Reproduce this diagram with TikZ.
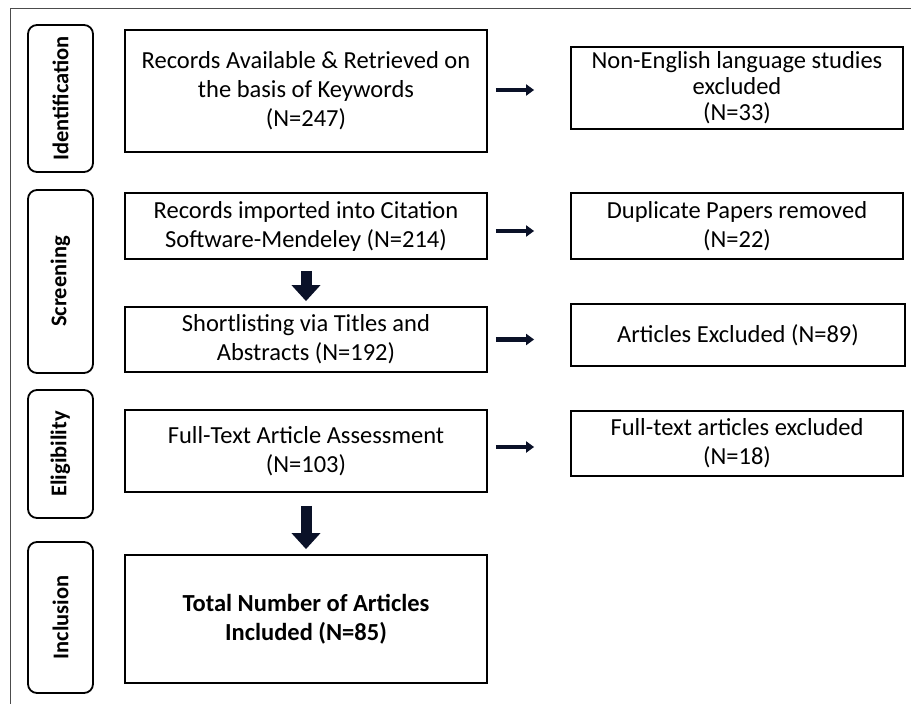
\documentclass[tikz,border=0pt]{standalone}
\usepackage{fontspec}
\setmainfont{Carlito}
\usetikzlibrary{arrows.meta,calc}
\definecolor{arrowc}{HTML}{0A1128}
\tikzset{
  mainbox/.style={draw=black,line width=1.8pt,align=center,inner sep=0pt,
    font=\fontsize{24.5}{29}\selectfont},
  sidebox/.style={draw=black,line width=1.8pt,rounded corners=9pt,inner sep=0pt,
    minimum width=65pt},
  sidelabel/.style={rotate=90,font=\fontsize{22.5}{26}\selectfont\bfseries},
  rarrow/.style={draw=arrowc,line width=4.5pt,-{Triangle[length=8pt,width=11pt]}},
  darrow/.style={draw=arrowc,line width=11pt,-{Triangle[length=16pt,width=28pt]}},
}
\begin{document}
\begin{tikzpicture}[x=1pt,y=-1pt]
\useasboundingbox (0,0) rectangle (911,704);
% outer frame
\draw[draw=black!70,line width=1pt] (10,720) -- (10,8) -- (930,8);
% side boxes
\node[sidebox,minimum height=147pt] (s1) at (60.5,98.5) {};
\node[sidelabel] (t1) at (s1.center) {Identification};
\node[sidebox,minimum height=183pt] (s2) at (60.5,281.5) {};
\node[sidelabel] (t2) at (s2.center) {Screening};
\node[sidebox,minimum height=128pt] (s3) at (60.5,454) {};
\node[sidelabel] (t3) at (s3.center) {Eligibility};
\node[sidebox,minimum height=151pt] (s4) at (60.5,617.5) {};
\node[sidelabel] (t4) at (s4.center) {Inclusion};
% left column
\node[mainbox,minimum width=362pt,minimum height=122pt] (b1) at (306,91)
  {Records Available \& Retrieved on\\the basis of Keywords\\(N=247)};
\node[mainbox,minimum width=362pt,minimum height=66pt] (b2) at (306,226)
  {Records imported into Citation\\Software-Mendeley (N=214)};
\node[mainbox,minimum width=362pt,minimum height=65pt] (b3) at (306,339.5)
  {Shortlisting via Titles and\\Abstracts (N=192)};
\node[mainbox,minimum width=362pt,minimum height=82pt] (b4) at (306,451)
  {Full-Text Article Assessment\\(N=103)};
\node[mainbox,minimum width=362pt,minimum height=128pt,font=\fontsize{24.5}{29}\selectfont\bfseries] (b5) at (306,619)
  {Total Number of Articles\\Included (N=85)};
% right column
\node[mainbox,minimum width=332pt,minimum height=82pt,font=\fontsize{24.5}{26}\selectfont] (r1) at (737,88)
  {Non-English language studies\\excluded\\(N=33)};
\node[mainbox,minimum width=332pt,minimum height=66pt] (r2) at (737,226)
  {Duplicate Papers removed\\(N=22)};
\node[mainbox,minimum width=334pt,minimum height=62pt] (r3) at (738,335)
  {Articles Excluded (N=89)};
\node[mainbox,minimum width=332pt,minimum height=65pt] (r4) at (737,443.5)
  {Full-text articles excluded\\(N=18)};
% horizontal arrows
\draw[rarrow,shorten <=8pt,shorten >=36pt] ([yshift=1pt]b1.east) -- ([yshift=1pt]b1.east -| r1.west);
\draw[rarrow,shorten <=8pt,shorten >=36pt] ([yshift=-5pt]b2.east) -- ([yshift=-5pt]b2.east -| r2.west);
\draw[rarrow,shorten <=8pt,shorten >=36pt] (b3.east) -- (b3.east -| r3.west);
\draw[rarrow,shorten <=8pt,shorten >=36pt] ([yshift=4pt]b4.east) -- ([yshift=4pt]b4.east -| r4.west);
% vertical arrows
\draw[darrow,shorten <=11pt,shorten >=5pt] (b2.south) -- (b3.north);
\draw[darrow,shorten <=13pt,shorten >=5pt] (b4.south) -- (b5.north);
\end{tikzpicture}
\end{document}
